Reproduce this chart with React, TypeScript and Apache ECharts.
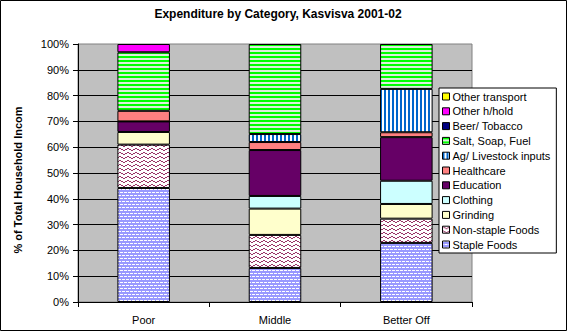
import React, { useEffect, useRef } from "react";
import * as echarts from "echarts";

const categories = ["Poor", "Middle", "Better Off"];
const seriesNames = [
  "Staple Foods",
  "Non-staple Foods",
  "Grinding",
  "Clothing",
  "Education",
  "Healthcare",
  "Ag/ Livestock inputs",
  "Salt, Soap, Fuel",
  "Beer/ Tobacco",
  "Other h/hold",
  "Other transport",
];
const stapleFoods = [44.2, 13.2, 22.9];
const nonStapleFoods = [16.8, 12.8, 9.4];
const grinding = [4.9, 10.2, 5.7];
const clothing = [0, 4.9, 9.0];
const education = [4.1, 17.8, 16.9];
const healthcare = [4.1, 3.1, 1.9];
const agInputs = [0, 3.1, 16.8];
const saltSoapFuel = [22.7, 34.9, 17.4];
const beerTobacco = [0, 0, 0];
const otherHhold = [3.2, 0, 0];
const otherTransport = [0, 0, 0];
const seriesValues = [
  stapleFoods,
  nonStapleFoods,
  grinding,
  clothing,
  education,
  healthcare,
  agInputs,
  saltSoapFuel,
  beerTobacco,
  otherHhold,
  otherTransport,
];
const yTicks = [0, 10, 20, 30, 40, 50, 60, 70, 80, 90, 100];

function svgUrl(w: number, h: number, body: string) {
  const s = `<svg xmlns="http://www.w3.org/2000/svg" width="${w}" height="${h}" shape-rendering="crispEdges">${body}</svg>`;
  return "data:image/svg+xml;charset=utf-8," + encodeURIComponent(s);
}

function pattern(w: number, h: number, body: string) {
  return {
    image: svgUrl(w, h, body),
    repeat: "repeat",
    imageWidth: w,
    imageHeight: h,
  };
}

function px(points: number[][], color: string) {
  return points
    .map(([x, y]) => `<rect x="${x}" y="${y}" width="1" height="1" fill="${color}"/>`)
    .join("");
}

const stapleFill = pattern(
  8,
  6,
  `<rect width="8" height="6" fill="#9999FF"/>` +
    `<rect x="0" y="0" width="3" height="1" fill="#FFFFFF"/><rect x="4" y="0" width="3" height="1" fill="#FFFFFF"/>` +
    `<rect x="2" y="3" width="3" height="1" fill="#FFFFFF"/><rect x="6" y="3" width="2" height="1" fill="#FFFFFF"/><rect x="0" y="3" width="1" height="1" fill="#FFFFFF"/>`
);
const nonStapleFill = pattern(
  8,
  4,
  `<rect width="8" height="4" fill="#FFFFFF"/>` +
    px(
      [
        [0, 0],
        [1, 1],
        [2, 1],
        [3, 2],
        [4, 2],
        [5, 1],
        [6, 1],
        [7, 0],
      ],
      "#993366"
    )
);
const saltFill = pattern(
  4,
  4,
  `<rect width="4" height="4" fill="#DDEEDD"/><rect x="0" y="0" width="4" height="2" fill="#00FF00"/>`
);
const agFill = pattern(
  4,
  4,
  `<rect width="4" height="4" fill="#FFFFFF"/><rect x="0" y="0" width="2" height="4" fill="#0066CC"/>`
);

const fills: any[] = [
  stapleFill,
  nonStapleFill,
  "#FFFFCC",
  "#CCFFFF",
  "#660066",
  "#FF8080",
  agFill,
  saltFill,
  "#000080",
  "#FF00FF",
  "#FFFF00",
];

export default function App() {
  const ref = useRef<HTMLDivElement>(null);
  useEffect(() => {
    document.body.style.margin = "0";
    const chart = echarts.init(ref.current!, null, { renderer: "svg" });
    const font = "Arial, 'Liberation Sans', sans-serif";
    chart.setOption({
      animation: false,
      backgroundColor: "#FFFFFF",
      textStyle: { fontFamily: font },
      grid: {
        left: 78,
        right: 95,
        top: 44,
        bottom: 29,
        show: true,
        backgroundColor: "#C0C0C0",
        borderColor: "#808080",
        borderWidth: 1,
      },
      legend: {
        orient: "vertical",
        left: 439,
        top: 88,
        data: seriesNames.slice().reverse(),
        itemWidth: 7,
        itemHeight: 7,
        itemGap: 1.8,
        padding: [2, 6, 2, 3],
        backgroundColor: "#FFFFFF",
        borderColor: "#000000",
        borderWidth: 1,
        borderRadius: 0,
        icon: "rect",
        itemStyle: { borderColor: "#000000", borderWidth: 1 },
        textStyle: { fontFamily: font, fontSize: 11, color: "#000", lineHeight: 13, padding: [0, 0, 0, -2] },
      },
      xAxis: {
        type: "category",
        data: categories,
        axisLine: { lineStyle: { color: "#000", width: 1 } },
        axisTick: { show: true, length: 5, lineStyle: { color: "#000" }, alignWithLabel: false },
        axisLabel: { color: "#000", fontSize: 11, fontFamily: font, margin: 12 },
      },
      yAxis: {
        type: "value",
        min: yTicks[0],
        max: yTicks[yTicks.length - 1],
        interval: 10,
        axisLine: { show: true, lineStyle: { color: "#000", width: 1 } },
        axisTick: { show: true, length: 5, lineStyle: { color: "#000" } },
        axisLabel: { color: "#000", fontSize: 11, fontFamily: font, margin: 9, formatter: "{value}%" },
        splitLine: { show: true, showMaxLine: false, lineStyle: { color: "#000", width: 1 } },
      },
      graphic: [
        {
          type: "rect",
          shape: { x: 0.5, y: 0.5, width: 566, height: 330 },
          style: { fill: "none", stroke: "#000", lineWidth: 1 },
          z: 100,
        },
        {
          type: "text",
          x: 278,
          y: 14,
          style: {
            text: "Expenditure by Category, Kasvisva 2001-02",
            font: `bold 12px ${font}`,
            fill: "#000",
            textAlign: "center",
            textVerticalAlign: "middle",
          },
        },
        {
          type: "text",
          x: 18,
          y: 180,
          rotation: Math.PI / 2,
          style: {
            text: "% of Total Household Incom",
            font: `bold 11px ${font}`,
            fill: "#000",
            textAlign: "center",
            textVerticalAlign: "middle",
          },
        },
      ],
      series: seriesNames.map((name, i) => ({
        name,
        type: "bar",
        stack: "total",
        barWidth: "40%",
        data: seriesValues[i].map((v) => (v === 0 ? "-" : v)),
        itemStyle: { color: fills[i], borderColor: "#000", borderWidth: 1 },
        emphasis: { disabled: true },
      })),
    });
    return () => chart.dispose();
  }, []);
  return <div ref={ref} style={{ width: 567, height: 331 }} />;
}
